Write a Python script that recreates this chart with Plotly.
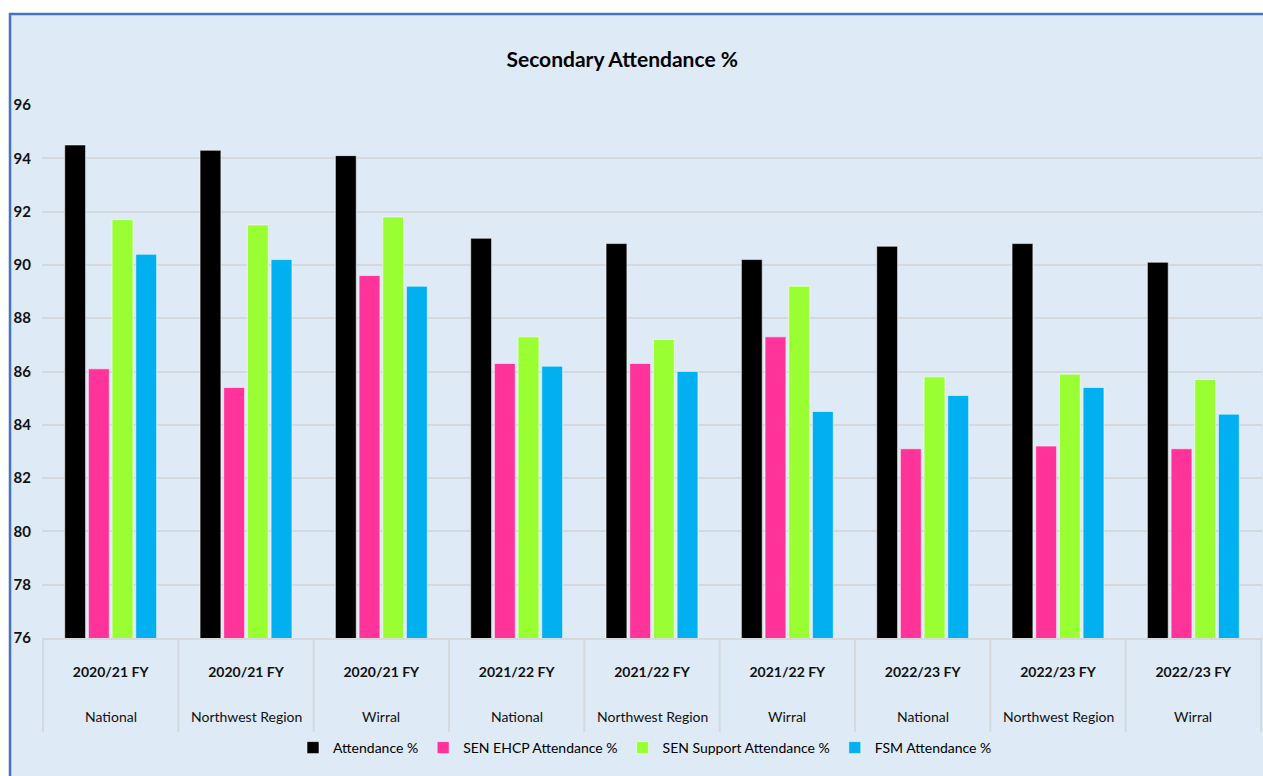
import plotly.graph_objects as go

years = ["2020/21 FY", "2020/21 FY", "2020/21 FY",
         "2021/22 FY", "2021/22 FY", "2021/22 FY",
         "2022/23 FY", "2022/23 FY", "2022/23 FY"]
regions = ["National", "Northwest Region", "Wirral",
           "National", "Northwest Region", "Wirral",
           "National", "Northwest Region", "Wirral"]

attendance = [94.5, 94.3, 94.1, 91.0, 90.8, 90.2, 90.7, 90.8, 90.1]
sen_ehcp = [86.1, 85.4, 89.6, 86.3, 86.3, 87.3, 83.1, 83.2, 83.1]
sen_support = [91.7, 91.5, 91.8, 87.3, 87.2, 89.2, 85.8, 85.9, 85.7]
fsm = [90.4, 90.2, 89.2, 86.2, 86.0, 84.5, 85.1, 85.4, 84.4]

series_names = ["Attendance %", "SEN EHCP Attendance %", "SEN Support Attendance %", "FSM Attendance %"]
series_values = [attendance, sen_ehcp, sen_support, fsm]
series_colors = ["#000000", "#FF3399", "#99FF33", "#00B0F0"]

FONT = "Lato, Roboto, sans-serif"

cat_ids = [f"{y}|{r}|{i}" for i, (y, r) in enumerate(zip(years, regions))]

fig = go.Figure()
for name, vals, col in zip(series_names, series_values, series_colors):
    fig.add_trace(go.Bar(
        x=cat_ids, y=vals, name=name,
        marker=dict(color=col, line=dict(color="rgba(255,255,255,0.55)", width=1)),
    ))

W, H = 1263, 776
L, R, T, B = 42, 1, 105, 138
pw = W - L - R
ph = H - T - B

def px_x(p):
    return (p - L) / pw

def px_y(p):
    return (H - B - p) / ph

shapes = [
    dict(type="rect", xref="paper", yref="paper", layer="below",
         x0=px_x(10), x1=px_x(W + 20), y0=px_y(H + 20), y1=px_y(14),
         fillcolor="#DEEAF6", line=dict(color="#4472C4", width=2.5)),
]
for i in range(len(cat_ids) + 1):
    shapes.append(dict(type="line", xref="x", yref="paper",
                       x0=i - 0.5, x1=i - 0.5, y0=0, y1=px_y(732),
                       line=dict(color="#D5D9DD", width=2)))

annotations = []
for cid, reg in zip(cat_ids, regions):
    annotations.append(dict(x=cid, xref="x", y=px_y(716), yref="paper",
                            text=reg, showarrow=False, yanchor="middle",
                            font=dict(family=FONT, size=14, color="#111111")))

fig.update_layout(
    width=W, height=H,
    margin=dict(l=L, r=R, t=T, b=B, autoexpand=False),
    paper_bgcolor="white",
    plot_bgcolor="rgba(0,0,0,0)",
    barmode="group",
    bargap=0.3,
    bargroupgap=0.12,
    title=dict(text="<b>Secondary Attendance %</b>", x=px_x(643), xanchor="center",
               y=1 - 60 / H, yanchor="middle",
               font=dict(family=FONT, size=21, color="#000000")),
    font=dict(family=FONT, color="#000000"),
    shapes=shapes,
    annotations=annotations,
    showlegend=True,
    legend=dict(orientation="h", x=px_x(645), xanchor="center", y=px_y(748), yanchor="middle",
                font=dict(family=FONT, size=14, color="#000000"),
                bgcolor="rgba(0,0,0,0)", itemwidth=30, traceorder="normal"),
    xaxis=dict(
        tickmode="array", tickvals=cat_ids, ticktext=[f"<b>{y}</b>" for y in years],
        tickfont=dict(family=FONT, size=14, color="#111111"),
        ticks="", ticklabelstandoff=20,
        showline=True, linecolor="#D5D9DD", linewidth=2,
        showgrid=False,
    ),
    yaxis=dict(
        range=[76, 96], dtick=2, tick0=76,
        tickfont=dict(family=FONT, size=15, color="#111111"),
        tickprefix="<b>", ticksuffix="</b>",
        ticks="", ticklabelstandoff=10,
        showgrid=True, gridcolor="#D5D9DD", gridwidth=2,
        zeroline=False, showline=False,
    ),
)

fig.write_html("out.html",
               config={"displayModeBar": False},
               post_script="document.body.style.margin='0px';document.body.style.overflow='hidden';")
